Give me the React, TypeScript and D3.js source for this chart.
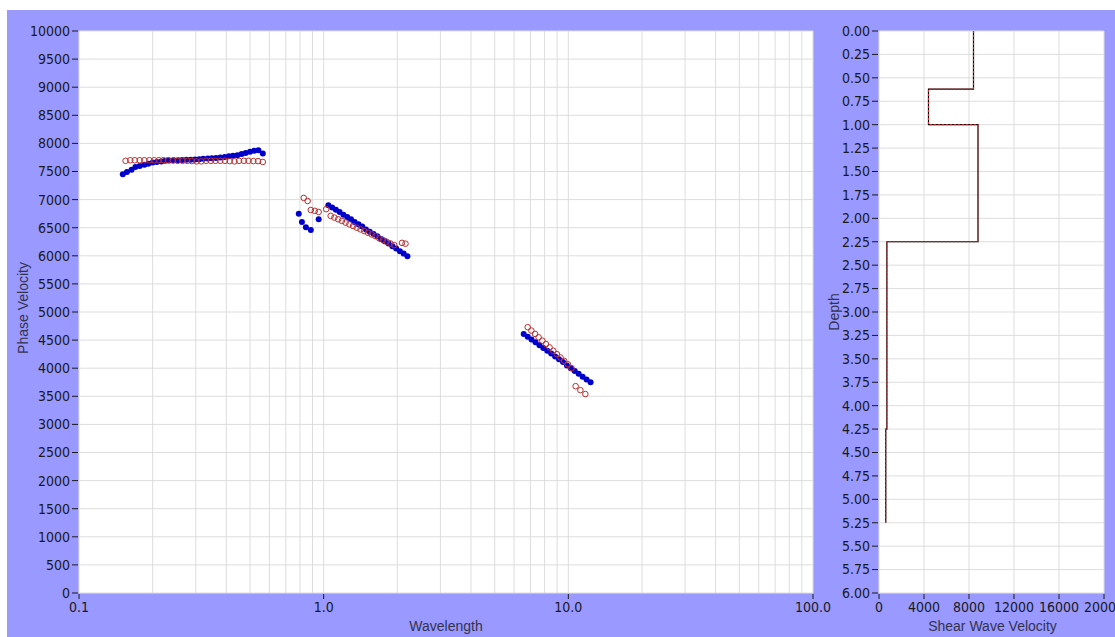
import React from "react";
import * as d3 from "d3";

// dispersion curve: measured (blue dots) and modelled (red rings)
const measuredWavelength = [
  0.151, 0.157, 0.164, 0.170, 0.177, 0.185, 0.192, 0.200, 0.208, 0.217, 0.225, 0.234,
  0.244, 0.254, 0.264, 0.275, 0.286, 0.298, 0.310, 0.322, 0.336, 0.349, 0.363, 0.378,
  0.394, 0.410, 0.426, 0.444, 0.462, 0.480, 0.500, 0.520, 0.541, 0.564,
  0.791, 0.815, 0.846, 0.886, 0.954,
  1.045, 1.083, 1.122, 1.162, 1.204, 1.248, 1.293, 1.339, 1.388, 1.438, 1.489, 1.543,
  1.599, 1.657, 1.716, 1.778, 1.842, 1.909, 1.978, 2.049, 2.123, 2.200,
  6.57, 6.82, 7.07, 7.34, 7.62, 7.90, 8.20, 8.51, 8.83, 9.16, 9.51, 9.87, 10.24, 10.62,
  11.02, 11.44, 11.87, 12.33,
];
const measuredVelocity = [
  7450, 7490, 7530, 7580, 7600, 7620, 7640, 7660, 7670, 7680, 7690, 7695,
  7700, 7700, 7705, 7710, 7710, 7715, 7720, 7725, 7730, 7735, 7740, 7750,
  7760, 7770, 7780, 7790, 7810, 7830, 7850, 7870, 7880, 7820,
  6750, 6600, 6510, 6460, 6650,
  6900, 6860, 6820, 6780, 6730, 6690, 6650, 6600, 6560, 6520, 6470, 6430,
  6390, 6350, 6300, 6260, 6220, 6170, 6130, 6080, 6040, 5990,
  4610, 4560, 4510, 4460, 4410, 4360, 4310, 4260, 4210, 4160, 4110, 4050, 4000, 3950,
  3900, 3850, 3800, 3750,
];

const modelWavelength = [
  0.155, 0.162, 0.169, 0.177, 0.185, 0.194, 0.203, 0.212, 0.221, 0.231, 0.242, 0.253,
  0.265, 0.277, 0.289, 0.302, 0.316, 0.331, 0.346, 0.361, 0.378, 0.395, 0.413, 0.432,
  0.451, 0.472, 0.493, 0.516, 0.539, 0.564,
  0.829, 0.860, 0.886, 0.920, 0.954, 1.024,
  1.068, 1.106, 1.146, 1.187, 1.229, 1.273, 1.319, 1.366, 1.415, 1.465, 1.518, 1.572,
  1.628, 1.687, 1.747, 1.809, 1.874, 1.943, 2.09, 2.16,
  6.82, 7.06, 7.31, 7.56, 7.83, 8.10, 8.38, 8.68, 8.98, 9.29, 9.62, 9.96, 10.31,
  10.71, 11.20, 11.74,
];
const modelVelocity = [
  7690, 7700, 7700, 7700, 7700, 7700, 7700, 7700, 7700, 7700, 7695, 7690,
  7690, 7690, 7685, 7680, 7680, 7690, 7690, 7690, 7690, 7690, 7685, 7680,
  7690, 7690, 7690, 7685, 7685, 7670,
  7030, 6975, 6815, 6800, 6780, 6830,
  6710, 6680, 6650, 6620, 6590, 6560, 6530, 6500, 6470, 6440, 6410, 6380,
  6350, 6310, 6280, 6250, 6220, 6190, 6230, 6215,
  4730, 4670, 4610, 4550, 4490, 4430, 4370, 4310, 4250, 4190, 4130, 4070, 4000,
  3680, 3610, 3540,
];

// shear wave velocity profile
const layerBounds = [0, 0.62, 1.0, 2.25, 4.25, 5.25];
const layerVelocity = [8400, 4400, 8800, 700, 600];

const xMajor = [0.1, 1, 10, 100];
const xMajorLabels = ["0.1", "1.0", "10.0", "100.0"];
const vsTicks = [0, 4000, 8000, 12000, 16000, 20000];

const TICK_FONT = "'Liberation Sans Narrow', 'DejaVu Sans Condensed', sans-serif";
const TITLE_FONT = "'Liberation Sans', Arial, sans-serif";
const BG = "#9999ff";
const GRID = "#dddddd";
const INK = "#1a1a1a";
const TITLE_INK = "#33334d";

export default function App() {
  const left = { x0: 79, x1: 813, y0: 31, y1: 593 };
  const right = { x0: 879, x1: 1104, y0: 31, y1: 593 };

  const x = d3.scaleLog().domain([0.1, 100]).range([left.x0, left.x1]);
  const y = d3.scaleLinear().domain([0, 10000]).range([left.y1, left.y0]);
  const vx = d3.scaleLinear().domain([0, 20000]).range([right.x0, right.x1]);
  const dy = d3.scaleLinear().domain([0, 6]).range([right.y0, right.y1]);

  const yTicks = d3.range(0, 10001, 500);
  const depthTicks = d3.range(0, 6.001, 0.25);

  const profile: [number, number][] = [];
  layerVelocity.forEach((v, i) => {
    profile.push([v, layerBounds[i]]);
    profile.push([v, layerBounds[i + 1]]);
  });
  const profileLine = d3
    .line<[number, number]>()
    .x((d) => vx(d[0]))
    .y((d) => dy(d[1]));

  return (
    <svg
      width={1115}
      height={637}
      style={{ position: "absolute", left: 0, top: 0, display: "block" }}
    >
      <rect x={0} y={0} width={1115} height={637} fill="#ffffff" />
      <rect x={7} y={10} width={1108} height={627} fill={BG} />

      {/* left plot */}
      <rect x={left.x0} y={left.y0} width={left.x1 - left.x0} height={left.y1 - left.y0} fill="#ffffff" />
      {x.ticks().map((t, i) => (
        <line key={"gx" + i} x1={x(t)} x2={x(t)} y1={left.y0} y2={left.y1} stroke={GRID} />
      ))}
      {yTicks.map((t) => (
        <line key={"gy" + t} x1={left.x0} x2={left.x1} y1={y(t)} y2={y(t)} stroke={GRID} />
      ))}
      <g fontFamily={TICK_FONT} fontSize={14} fill={INK}>
        {yTicks.map((t) => (
          <g key={"ty" + t}>
            <line x1={72} x2={78} y1={y(t)} y2={y(t)} stroke={INK} />
            <text x={70} y={y(t)} dy="0.35em" textAnchor="end">
              {t}
            </text>
          </g>
        ))}
        {xMajor.map((t, i) => (
          <g key={"tx" + t}>
            <line x1={x(t)} x2={x(t)} y1={left.y1 + 1} y2={left.y1 + 6} stroke={INK} />
            <text x={x(t)} y={left.y1 + 19} textAnchor="middle">
              {xMajorLabels[i]}
            </text>
          </g>
        ))}
      </g>
      <g fontFamily={TITLE_FONT} fontSize={14} fill={TITLE_INK}>
        <text x={(left.x0 + left.x1) / 2} y={631} textAnchor="middle">
          Wavelength
        </text>
        <text transform={`translate(28,308) rotate(-90)`} textAnchor="middle">
          Phase Velocity
        </text>
      </g>

      {measuredWavelength.map((w, i) => (
        <circle key={"m" + i} cx={x(w)} cy={y(measuredVelocity[i])} r={3} fill="#0000cc" />
      ))}
      {modelWavelength.map((w, i) => (
        <circle
          key={"p" + i}
          cx={x(w)}
          cy={y(modelVelocity[i])}
          r={2.8}
          fill="none"
          stroke="#b83030"
          strokeWidth={1}
        />
      ))}

      {/* right plot */}
      <rect x={right.x0} y={right.y0} width={right.x1 - right.x0} height={right.y1 - right.y0} fill="#ffffff" />
      {vsTicks.map((t) => (
        <line key={"gv" + t} x1={vx(t)} x2={vx(t)} y1={right.y0} y2={right.y1} stroke={GRID} />
      ))}
      {depthTicks.map((t) => (
        <line key={"gd" + t} x1={right.x0} x2={right.x1} y1={dy(t)} y2={dy(t)} stroke={GRID} />
      ))}
      <g fontFamily={TICK_FONT} fontSize={14} fill={INK}>
        {depthTicks.map((t) => (
          <g key={"td" + t}>
            <line x1={872} x2={878} y1={dy(t)} y2={dy(t)} stroke={INK} />
            <text x={870} y={dy(t)} dy="0.35em" textAnchor="end">
              {t.toFixed(2)}
            </text>
          </g>
        ))}
        {vsTicks.map((t) => (
          <g key={"tv" + t}>
            <line x1={vx(t)} x2={vx(t)} y1={right.y1 + 1} y2={right.y1 + 6} stroke={INK} />
            <text x={vx(t)} y={right.y1 + 19} textAnchor="middle">
              {t}
            </text>
          </g>
        ))}
      </g>
      <g fontFamily={TITLE_FONT} fontSize={14} fill={TITLE_INK}>
        <text x={(right.x0 + right.x1) / 2 + 1} y={631} textAnchor="middle">
          Shear Wave Velocity
        </text>
        <text transform={`translate(839,312) rotate(-90)`} textAnchor="middle">
          Depth
        </text>
      </g>

      <path d={profileLine(profile) ?? ""} fill="none" stroke="#000000" strokeWidth={1.2} />
      <path d={profileLine(profile) ?? ""} fill="none" stroke="#cc3030" strokeWidth={1.2} strokeDasharray="2,2" />
    </svg>
  );
}
